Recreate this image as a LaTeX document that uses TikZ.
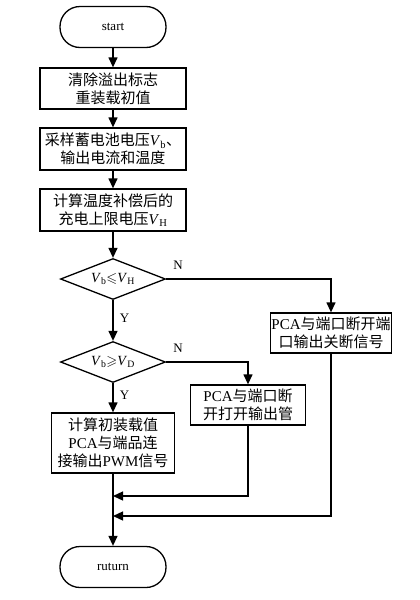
\documentclass[tikz,border=0pt]{standalone}
\usepackage{fontspec}
\usepackage{amssymb}
\setmainfont{Liberation Serif}
\newfontfamily\zh{Noto Sans CJK SC}
\usetikzlibrary{shapes.geometric,arrows.meta}
\begin{document}
\begin{tikzpicture}[x=1pt,y=-1pt,
  line width=1.3pt,
  arr/.style={-{Triangle[length=10pt,width=9pt]}},
  term/.style={draw, rectangle, rounded corners=20pt, minimum width=106pt, minimum height=41pt, inner sep=0pt, font=\fontsize{13}{15}\selectfont},
  proc/.style={draw, rectangle, align=center, inner sep=0pt, font=\fontsize{15}{18}\selectfont},
  dec/.style={draw, diamond, shape aspect=2.56, inner sep=0pt, minimum width=105pt, minimum height=41pt, font=\fontsize{14}{16}\selectfont},
  lab/.style={font=\fontsize{13}{15}\selectfont}
]
\useasboundingbox (0,0) rectangle (420,600);
\fill[white] (0,0) rectangle (420,600);
\node[term] (start) at (113,27) {start};
\node[proc, minimum width=146pt, minimum height=41pt] (b1) at (113,88.5) {{\zh 清除溢出标志}\\{\zh 重装载初值}};
\node[proc, minimum width=146pt, minimum height=42pt] (b2) at (113,149) {{\zh 采样蓄电池电压}\textit{V}\textsubscript{b}{\zh 、}\\{\zh 输出电流和温度}};
\node[proc, minimum width=146pt, minimum height=42pt] (b3) at (113,210) {{\zh 计算温度补偿后的}\\{\zh 充电上限电压}\textit{V}\textsubscript{H}};
\node[dec] (d1) at (113,279) {\textit{V}\textsubscript{b}$\leqslant$\textit{V}\textsubscript{H}};
\node[proc, minimum width=121pt, minimum height=40pt] (r1) at (331,333) {PCA{\zh 与端口断开端}\\{\zh 口输出关断信号}};
\node[dec] (d2) at (113,362) {\textit{V}\textsubscript{b}$\geqslant$\textit{V}\textsubscript{D}};
\node[proc, minimum width=115pt, minimum height=40pt] (m1) at (248,405) {PCA{\zh 与端口断}\\{\zh 开打开输出管}};
\node[proc, minimum width=123pt, minimum height=60pt] (b4) at (113,443) {{\zh 计算初装载值}\\PCA{\zh 与端品连}\\{\zh 接输出}PWM{\zh 信号}};
\node[term] (ret) at (113,567) {ruturn};
\coordinate (j1) at (113,496);
\coordinate (j2) at (113,516);
\draw[arr] (start) -- (b1);
\draw[arr] (b1) -- (b2);
\draw[arr] (b2) -- (b3);
\draw[arr] (b3) -- (d1);
\draw[arr] (d1) -- (d2) node[lab, pos=0.45, right=3pt] {Y};
\draw[arr] (d2) -- (b4) node[lab, pos=0.4, right=3pt] {Y};
\draw[arr] (d1.east) -| (r1.north);
\draw[arr] (d2.east) -| (m1.north);
\node[lab] (n1) at (178,265) {N};
\node[lab] (n2) at (178,348) {N};
\draw[arr] (m1.south) |- (j1);
\draw[arr] (r1.south) |- (j2);
\draw[arr] (b4) -- (ret);
\end{tikzpicture}
\end{document}
